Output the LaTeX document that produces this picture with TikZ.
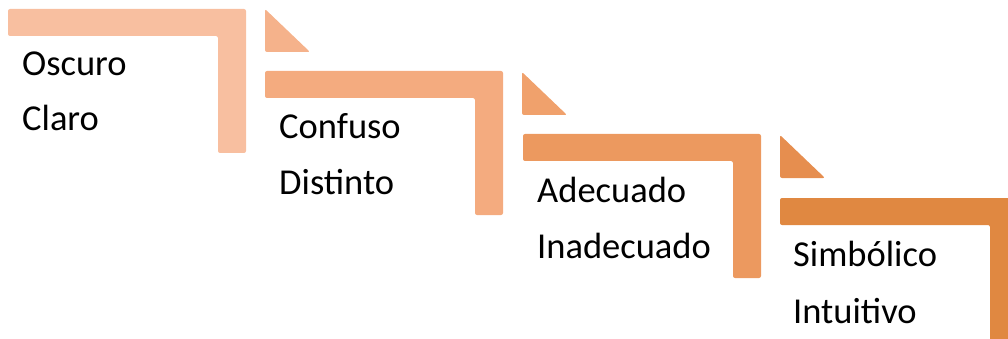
\documentclass[tikz,border=0pt]{standalone}
\usepackage{fontspec}
\setmainfont{Carlito}
\definecolor{sA}{HTML}{F8BFA0}
\definecolor{tA}{HTML}{F5B28B}
\definecolor{sB}{HTML}{F4AB7F}
\definecolor{tB}{HTML}{F0A16C}
\definecolor{sC}{HTML}{EC995F}
\definecolor{tC}{HTML}{E68E4F}
\definecolor{sD}{HTML}{E08841}
\tikzset{
  stepshape/.style={fill=#1, draw=none, rounded corners=2pt},
  stepdelta/.style={fill=#1, draw=none, rounded corners=2pt},
  steptext/.style={anchor=base west, inner sep=0pt, font=\fontsize{36.5}{40}\selectfont, text=black},
}
\newcommand{\stepL}[1]{%
  \path[stepshape=#1] (0,0) -- (238,0) -- (238,144) -- (210,144) -- (210,27) -- (0,27) -- cycle;}
\newcommand{\stepT}[1]{%
  \path[stepdelta=#1] (0,0) -- (45,43) -- (0,43) -- cycle;}
\begin{document}
\begin{tikzpicture}[x=1pt,y=-1pt]
\useasboundingbox (0,0) rectangle (1008,339);
\clip (0,0) rectangle (1008,339);
\begin{scope}[shift={(8,9)}]
  \stepL{sA}
  \node[steptext] (oscuro) at (14,67) {Oscuro};
  \node[steptext] (claro) at (14,122) {Claro};
\end{scope}
\begin{scope}[shift={(265,9)}]\stepT{tA}\end{scope}
\begin{scope}[shift={(265,71)}]
  \stepL{sB}
  \node[steptext] (confuso) at (14,68) {Confuso};
  \node[steptext] (distinto) at (14,123) {Distinto};
\end{scope}
\begin{scope}[shift={(522,72)}]\stepT{tB}\end{scope}
\begin{scope}[shift={(523,134)}]
  \stepL{sC}
  \node[steptext] (adecuado) at (14,68) {Adecuado};
  \node[steptext] (inadecuado) at (14,124) {Inadecuado};
\end{scope}
\begin{scope}[shift={(780,135)}]\stepT{tC}\end{scope}
\begin{scope}[shift={(780,198)}]
  \stepL{sD}
  \node[steptext] (simbolico) at (13,68) {Simbólico};
  \node[steptext] (intuitivo) at (13,125) {Intuitivo};
\end{scope}
\end{tikzpicture}
\end{document}
